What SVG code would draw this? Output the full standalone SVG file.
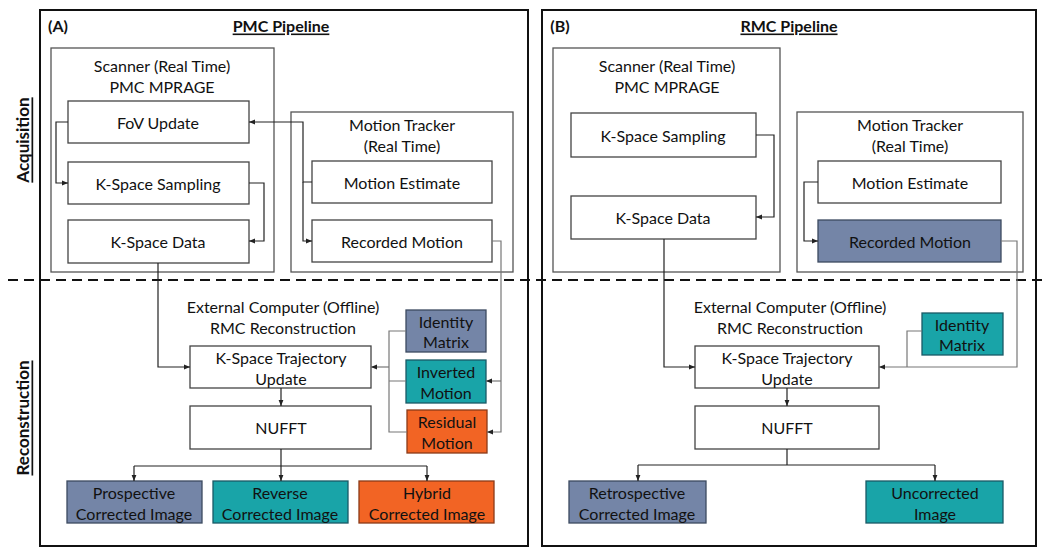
<svg xmlns="http://www.w3.org/2000/svg" width="1050" height="553" viewBox="0 0 1050 553">
<defs>
<marker id="ah" viewBox="0 0 10 10" refX="10" refY="5" markerWidth="6" markerHeight="6" orient="auto" markerUnits="userSpaceOnUse"><path d="M0,1 L10,5 L0,9 z" fill="#222"/></marker>
<style>
text{font-family:Lato,"Open Sans","Liberation Sans",sans-serif;font-size:16px;fill:#111;text-anchor:middle;dominant-baseline:central}
.b{font-weight:bold;text-decoration:underline}
.side{font-size:17px}
.panel{fill:none;stroke:#111;stroke-width:2}
.grp{fill:#fff;stroke:#555;stroke-width:1.3}
.n{fill:#fff;stroke:#444;stroke-width:1.3}
.s{fill:#7485a7;stroke:#3c4a60;stroke-width:1.3}
.t{fill:#19a4a8;stroke:#1a5a66;stroke-width:1.3}
.o{fill:#f26424;stroke:#8a3a18;stroke-width:1.3}
.c{fill:none;stroke:#222;stroke-width:1.2}
.g{fill:none;stroke:#777;stroke-width:1.2}
</style>
</defs>
<rect width="1050" height="553" fill="#fff"/>
<g id="panelA">
<rect class="panel" x="40" y="10" width="488" height="536"/>
<text x="58" y="25" style="font-weight:bold">(A)</text>
<text class="b" x="281" y="25">PMC Pipeline</text>
</g>
<g id="panelB">
<rect class="panel" x="542" y="10" width="494" height="536"/>
<text x="560" y="25" style="font-weight:bold">(B)</text>
<text class="b" x="789" y="25">RMC Pipeline</text>
</g>
<g id="sideLabels">
<text class="b side" transform="translate(22,140) rotate(-90)">Acquisition</text>
<text class="b side" transform="translate(22,418) rotate(-90)">Reconstruction</text>
</g>
<line x1="8" y1="280" x2="1044" y2="280" stroke="#111" stroke-width="2" stroke-dasharray="10,6"/>

<g id="A_scanner"><rect class="grp" x="51" y="48" width="223" height="224"/><text x="162" y="65">Scanner (Real Time)</text><text x="162" y="86">PMC MPRAGE</text></g>
<g id="A_fov"><rect class="n" x="68" y="101" width="181" height="42"/><text x="158" y="122">FoV Update</text></g>
<g id="A_kss"><rect class="n" x="68" y="162" width="181" height="42"/><text x="158" y="183">K-Space Sampling</text></g>
<g id="A_ksd"><rect class="n" x="68" y="220" width="181" height="43"/><text x="158" y="241">K-Space Data</text></g>
<g id="A_tracker"><rect class="grp" x="291" y="112" width="222" height="160"/><text x="402" y="124">Motion Tracker</text><text x="402" y="145">(Real Time)</text></g>
<g id="A_me"><rect class="n" x="312" y="161" width="180" height="42"/><text x="402" y="182">Motion Estimate</text></g>
<g id="A_rm"><rect class="n" x="312" y="220" width="180" height="42"/><text x="402" y="241">Recorded Motion</text></g>
<g id="A_ext"><text x="283" y="306">External Computer (Offline)</text><text x="283" y="327">RMC Reconstruction</text></g>
<g id="A_ktu"><rect class="n" x="190" y="346" width="181" height="42"/><text x="281" y="357">K-Space Trajectory</text><text x="281" y="378">Update</text></g>
<g id="A_nufft"><rect class="n" x="190" y="406" width="181" height="43"/><text x="281" y="427">NUFFT</text></g>
<g id="A_id"><rect class="s" x="406" y="310" width="80" height="42"/><text x="446" y="321">Identity</text><text x="446" y="341">Matrix</text></g>
<g id="A_inv"><rect class="t" x="406" y="360" width="80" height="43"/><text x="446" y="371">Inverted</text><text x="446" y="392">Motion</text></g>
<g id="A_res"><rect class="o" x="407" y="410" width="80" height="43"/><text x="447" y="421">Residual</text><text x="447" y="442">Motion</text></g>
<g id="A_pro"><rect class="s" x="67" y="481" width="135" height="42"/><text x="134" y="492">Prospective</text><text x="134" y="513">Corrected Image</text></g>
<g id="A_rev"><rect class="t" x="213" y="481" width="135" height="42"/><text x="280" y="492">Reverse</text><text x="280" y="513">Corrected Image</text></g>
<g id="A_hyb"><rect class="o" x="359" y="481" width="135" height="42"/><text x="427" y="492">Hybrid</text><text x="427" y="513">Corrected Image</text></g>

<g id="B_scanner"><rect class="grp" x="553" y="48" width="227" height="224"/><text x="667" y="65">Scanner (Real Time)</text><text x="667" y="86">PMC MPRAGE</text></g>
<g id="B_kss"><rect class="n" x="571" y="113" width="185" height="44"/><text x="663" y="135">K-Space Sampling</text></g>
<g id="B_ksd"><rect class="n" x="571" y="196" width="185" height="43"/><text x="663" y="217">K-Space Data</text></g>
<g id="B_tracker"><rect class="grp" x="797" y="112" width="226" height="160"/><text x="910" y="124">Motion Tracker</text><text x="910" y="145">(Real Time)</text></g>
<g id="B_me"><rect class="n" x="818" y="161" width="183" height="42"/><text x="910" y="182">Motion Estimate</text></g>
<g id="B_rm"><rect class="s" x="818" y="220" width="183" height="42"/><text x="910" y="241">Recorded Motion</text></g>
<g id="B_ext"><text x="790" y="306">External Computer (Offline)</text><text x="790" y="327">RMC Reconstruction</text></g>
<g id="B_ktu"><rect class="n" x="695" y="346" width="184" height="42"/><text x="787" y="357">K-Space Trajectory</text><text x="787" y="378">Update</text></g>
<g id="B_nufft"><rect class="n" x="695" y="406" width="184" height="43"/><text x="787" y="427">NUFFT</text></g>
<g id="B_id"><rect class="t" x="922" y="313" width="81" height="42"/><text x="962" y="324">Identity</text><text x="962" y="344">Matrix</text></g>
<g id="B_ret"><rect class="s" x="569" y="481" width="137" height="42"/><text x="637" y="492">Retrospective</text><text x="637" y="513">Corrected Image</text></g>
<g id="B_unc"><rect class="t" x="866" y="481" width="137" height="42"/><text x="935" y="492">Uncorrected</text><text x="935" y="513">Image</text></g>

<g id="connectors">
<path class="c" d="M68,122 H56 V183 H68" marker-end="url(#ah)"/>
<path class="c" d="M249,183 H264 V241 H249" marker-end="url(#ah)"/>
<path class="c" d="M312,182 H303 V122 H249" marker-end="url(#ah)"/>
<path class="c" d="M303,182 V241 H312" marker-end="url(#ah)"/>
<path class="c" d="M158,263 V367 H190" marker-end="url(#ah)"/>
<path class="g" d="M492,241 H501 V432 H487" marker-end="url(#ah)"/>
<path class="g" d="M501,381 H486" marker-end="url(#ah)"/>
<path class="g" d="M406,331 H389 V432 H407 M389,381 H406"/>
<path class="g" d="M389,367 H371" marker-end="url(#ah)"/>
<path class="c" d="M281,388 V406" marker-end="url(#ah)"/>
<path class="c" d="M281,449 V466 M134,466 H427"/>
<path class="c" d="M134,466 V481" marker-end="url(#ah)"/>
<path class="c" d="M281,466 V481" marker-end="url(#ah)"/>
<path class="c" d="M427,466 V481" marker-end="url(#ah)"/>

<path class="c" d="M756,135 H774 V217 H756" marker-end="url(#ah)"/>
<path class="c" d="M818,182 H804 V241 H818" marker-end="url(#ah)"/>
<path class="c" d="M664,239 V367 H695" marker-end="url(#ah)"/>
<path class="g" d="M1001,241 H1017 V367 H879" marker-end="url(#ah)"/>
<path class="g" d="M922,331 H907 V367"/>
<path class="c" d="M787,388 V406" marker-end="url(#ah)"/>
<path class="c" d="M787,449 V465 M638,465 H935"/>
<path class="c" d="M638,465 V481" marker-end="url(#ah)"/>
<path class="c" d="M935,465 V481" marker-end="url(#ah)"/>
</g>
</svg>
